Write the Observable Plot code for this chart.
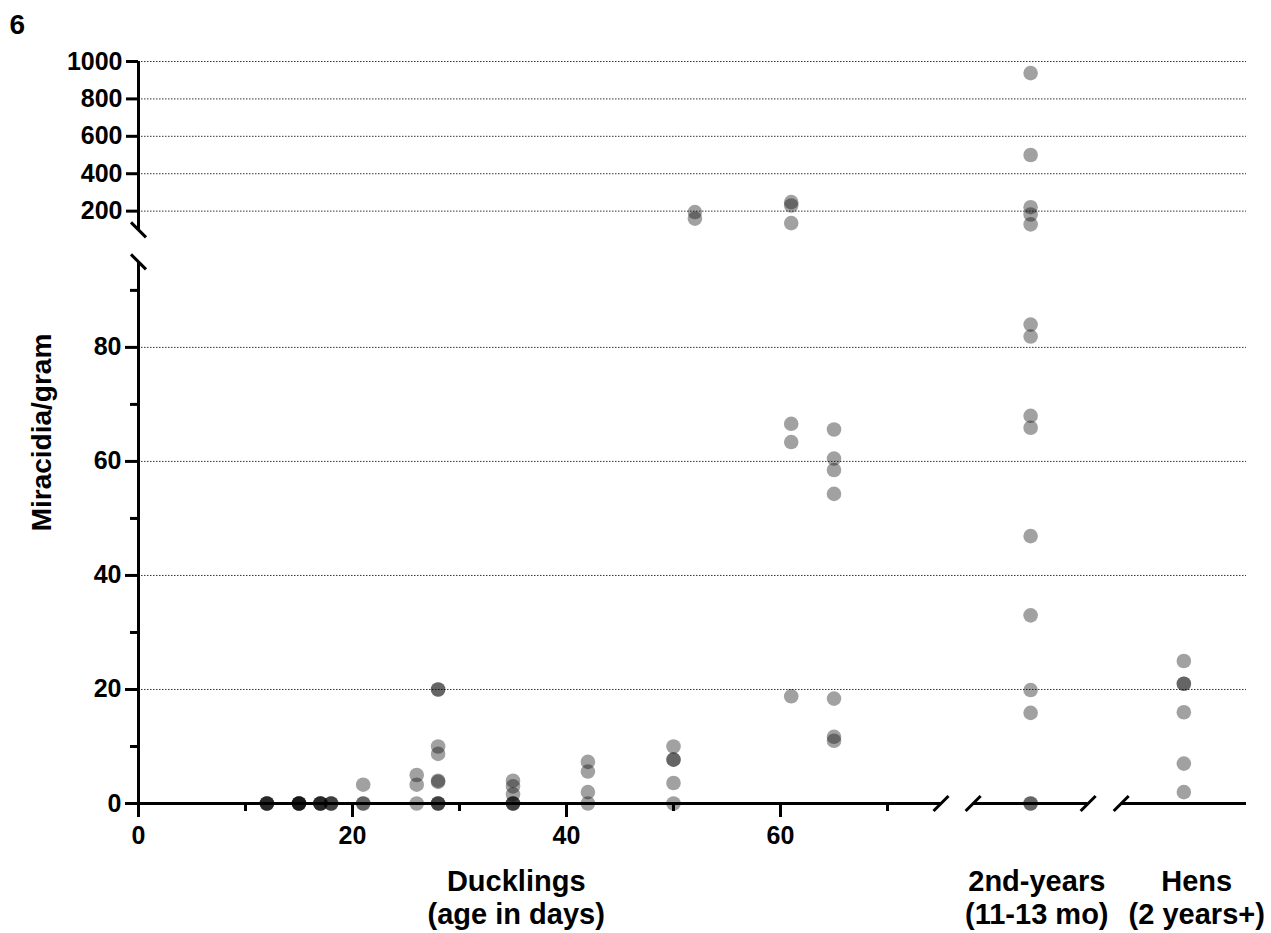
<!DOCTYPE html>
<html>
<head>
<meta charset="utf-8">
<script src="https://cdn.jsdelivr.net/npm/d3@7"></script>
<script src="https://cdn.jsdelivr.net/npm/@observablehq/plot@0.6"></script>
<style>
  body { margin: 0; background: #fff; }
  #chart svg { display: block; }
</style>
</head>
<body>
<div id="chart"></div>
<script>
// ---------------- data ----------------
const ducklingAges = [
  12,12,12,12,
  15,15,15,15,15,
  17,17,17,17,
  18,18,18,
  21,21,21,
  26,26,26,
  28,28,28,28,28,28,28,28,28,
  35,35,35,35,35,35,
  42,42,42,42,
  50,50,50,50,50,
  52,52,
  61,61,61,61,61,61,
  65,65,65,65,65,65,65
];
const ducklingValues = [
  0,0,0,0,
  0,0,0,0,0,
  0,0,0,0,
  0,0,0,
  0,0,3.3,
  0,3.3,5.0,
  0,0,0,3.8,4.0,8.7,10,20,20,
  0,0,0,1.6,3.0,4.0,
  0,2.0,5.6,7.3,
  0,3.6,7.7,7.7,10,
  160,195,
  18.8,63.4,66.6,136,230,248,
  11.0,11.7,18.4,54.3,58.5,60.5,65.6
];
const secondYearValues = [938,500,221,182,129,84.0,81.9,68.0,65.9,46.9,33.0,19.9,15.9,0,0];
const henValues = [25,21,21,16,7,2];

const groupLabels = ["Ducklings\n(age in days)", "2nd-years\n(11-13 mo)", "Hens\n(2 years+)"];
const dayTicks = [0,20,40,60];
const dayMinorTicks = [10,30,50,70];
const lowerTicks = [0,20,40,60,80];
const lowerMinorTicks = [10,30,50,70,90];
const lowerGrid = [20,40,60,80];
const upperTicks = [200,400,600,800,1000];

// ---------------- layout (broken axes) ----------------
const duckEnd = 75;                 // end of the ducklings x segment (days)
const seg2 = [78, 88.75];           // 2nd-years segment (virtual x units)
const seg3 = [91.84, 103.55];       // hens segment
const xMax = seg3[1];
const x2 = (seg2[0] + seg2[1]) / 2;
const x3 = (seg3[0] + seg3[1]) / 2;
const labelX = [35.3, 83.95, 98.9];

const lowerTop = 95, upperBottom = 100, upperTop = 1000;
const pxLower = 5.7, pxUpper = 0.187;          // px per unit on each y segment
const upper200 = 103.9;                        // virtual y of value 200
function Y(v) { return v <= lowerTop ? v : upper200 + (v - 200) * (pxUpper / pxLower); }
const upperLabel = new Map(upperTicks.map(v => [Y(v), String(v)]));

const points = [
  ...ducklingAges.map((d, i) => ({x: d, v: ducklingValues[i]})),
  ...secondYearValues.map(v => ({x: x2, v})),
  ...henValues.map(v => ({x: x3, v}))
];

const backslash = {draw(ctx, size) { const h = Math.sqrt(size / Math.PI); ctx.moveTo(-h, -h); ctx.lineTo(h, h); }};
const slash = {draw(ctx, size) { const h = Math.sqrt(size / Math.PI); ctx.moveTo(-h, h); ctx.lineTo(h, -h); }};

const font = {fontSize: 25, fontWeight: "bold"};

const chart = Plot.plot({
  width: 1271,
  height: 933,
  marginLeft: 138,
  marginRight: 25,
  marginTop: 61,
  marginBottom: 130,
  x: {domain: [0, xMax], axis: null},
  y: {domain: [0, Y(upperTop)], axis: null},
  style: {fontFamily: "'Liberation Sans', Arial, sans-serif", color: "#000", background: "#fff"},
  marks: [
    // dotted gridlines
    Plot.ruleY([...lowerGrid, ...upperTicks.map(Y)], {x1: 0, x2: xMax, stroke: "#333", strokeWidth: 1, strokeDasharray: "1.5,1.5"}),
    // axis lines
    Plot.ruleX([0], {y1: 0, y2: lowerTop, strokeWidth: 3}),
    Plot.ruleX([0], {y1: Y(upperBottom), y2: Y(upperTop), strokeWidth: 3}),
    Plot.ruleY([[0, duckEnd], seg2, seg3], {y: 0, x1: d => d[0], x2: d => d[1], strokeWidth: 3}),
    // break marks
    Plot.dot([[0, lowerTop], [0, Y(upperBottom)]], {x: d => d[0], y: d => d[1], symbol: backslash, r: 7.5, fill: "none", stroke: "#000", strokeWidth: 3}),
    Plot.dot([duckEnd, seg2[0], seg2[1], seg3[0]], {x: d => d, y: 0, symbol: slash, r: 7.5, fill: "none", stroke: "#000", strokeWidth: 3}),
    // y axis ticks
    Plot.axisY({ticks: lowerTicks, anchor: "left", tickSize: 13, tickPadding: 4, strokeWidth: 3, label: null, tickFormat: d => String(d), ...font}),
    Plot.axisY({ticks: lowerMinorTicks, anchor: "left", tickSize: 8, strokeWidth: 3, label: null, tickFormat: () => ""}),
    Plot.axisY({ticks: upperTicks.map(Y), anchor: "left", tickSize: 12, tickPadding: 4, strokeWidth: 3, label: null, tickFormat: u => upperLabel.get(u), ...font}),
    // x axis ticks
    Plot.axisX({ticks: dayTicks, anchor: "bottom", tickSize: 14, tickPadding: 9, strokeWidth: 3, label: null, tickFormat: d => String(d), ...font}),
    Plot.axisX({ticks: dayMinorTicks, anchor: "bottom", tickSize: 8, strokeWidth: 3, label: null, tickFormat: () => ""}),
    // labels
    Plot.text(groupLabels, {x: labelX, frameAnchor: "bottom", dy: 63.5, lineAnchor: "top", lineHeight: 1.15, fontSize: 29, fontWeight: "bold"}),
    Plot.text(["Miracidia/gram"], {frameAnchor: "left", textAnchor: "middle", dx: -96, rotate: -90, fontSize: 28, fontWeight: "bold"}),
    Plot.text(["6"], {frameAnchor: "top-left", dx: -129, dy: -47, fontSize: 28, fontWeight: "bold"}),
    // data points
    Plot.dot(points, {x: "x", y: d => Y(d.v), r: 7.3, fill: "#000", fillOpacity: 0.37, stroke: "none"})
  ]
});
document.getElementById("chart").appendChild(chart);
</script>
</body>
</html>
